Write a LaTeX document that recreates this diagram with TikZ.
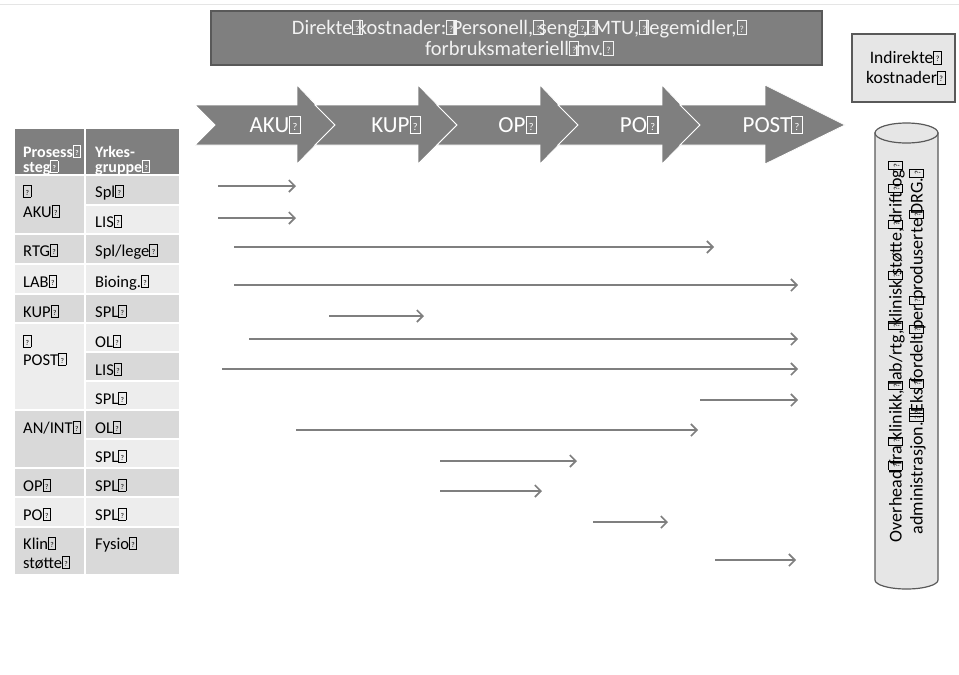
\documentclass[tikz,border=0pt]{standalone}
\usepackage{fontspec}
\setmainfont{Carlito}
\usepackage{graphicx}
\usetikzlibrary{arrows.meta}
\definecolor{boxgray}{HTML}{7F7F7F}
\definecolor{edgegray}{HTML}{595959}
\definecolor{rowD}{HTML}{D9D9D9}
\definecolor{rowL}{HTML}{EDEDED}
\definecolor{palegray}{HTML}{E6E6E6}
\definecolor{lighttxt}{HTML}{F2F2F2}
% missing-glyph box as printed in the picture
\newcommand{\qb}{\makebox[0.22em][l]{\setlength{\fboxsep}{0pt}\setlength{\fboxrule}{0.05em}\fbox{\makebox[0.4em]{\rule{0pt}{0.68em}\raisebox{0.12em}{\scalebox{0.45}{?}}}}}\hspace{0.05em}}

\begin{document}
\begin{tikzpicture}[
x=1pt, y=-1pt,
every node/.style={inner sep=0},
chev/.style={fill=boxgray, draw=white, line width=0.8},
chevtxt/.style={text=white, font=\fontsize{23}{25}\selectfont},
cell/.style={draw=white, line width=1.8},
bodytxt/.style={anchor=base west, font=\fontsize{16.5}{18}\selectfont},
headtxt/.style={anchor=base west, text=white, font=\fontsize{16}{16}\selectfont\bfseries},
flow/.style={draw=boxgray, line width=1.6, -{Straight Barb[length=6pt, width=12pt]}},
cyl/.style={fill=palegray, draw=edgegray, line width=1.2}
]
\useasboundingbox (0,0) rectangle (959,675);
\draw[black!10] (0,4) -- (959,4);

% cost boxes
\node[draw=edgegray, fill=boxgray, line width=1.2, minimum width=611, minimum height=54, align=center,
      text=lighttxt, font=\fontsize{20.5}{21}\selectfont] (direkte) at (516.5,38)
      {Direkte\qb kostnader:\qb Personell,\qb seng\qb,\qb MTU,\qb legemidler,\qb\\forbruksmateriell\qb mv.\qb};
\node[draw=edgegray, fill=palegray, line width=1.2, minimum width=103, minimum height=68, align=center,
      font=\fontsize{17.5}{20}\selectfont] (indirekte) at (903.5,68) {Indirekte\qb\\kostnader\qb};

% process chevrons
\foreach \l/\b/\t/\n in {215/297/335/AKU, 335/418/457/KUP, 457/540/578/OP, 578/662/700/PO, 700/765/845/POST} {
  \filldraw[chev] (\l-20,105) -- (\b,105) -- (\b,85) -- (\t,125) -- (\b,164) -- (\b,145) -- (\l-20,145) -- (\l,125) -- cycle;
  \node[chevtxt] (\n) at ({(\l+\t)/2-3},125) {\n\qb};
}

% table cells
\foreach \xa/\xb/\ya/\yb/\c in {14/85/128/175/boxgray, 85/180/128/175/boxgray,
    14/85/175/234/rowD, 85/180/175/205/rowD, 85/180/205/234/rowL,
    14/85/234/264/rowD, 85/180/234/264/rowD,
    14/85/264/294/rowL, 85/180/264/294/rowL,
    14/85/294/323/rowD, 85/180/294/323/rowD,
    14/85/323/410/rowL, 85/180/323/352/rowL, 85/180/352/381/rowD, 85/180/381/410/rowL,
    14/85/410/468/rowD, 85/180/410/439/rowD, 85/180/439/468/rowL,
    14/85/468/497/rowD, 85/180/468/497/rowD,
    14/85/497/527/rowL, 85/180/497/527/rowL,
    14/85/527/575/rowD, 85/180/527/575/rowD}
  \filldraw[cell, fill=\c] (\xa,\ya) rectangle (\xb,\yb);

\node[headtxt] (h1a) at (23,157) {Prosess\qb};
\node[headtxt] (h1b) at (23,172) {steg\qb};
\node[headtxt] (h2a) at (95,157) {Yrkes-};
\node[headtxt] (h2b) at (95,172) {gruppe\qb};
\node[bodytxt] (akuA) at (23,197) {\qb};
\node[bodytxt] (akuB) at (23,217) {AKU\qb};
\node[bodytxt] (spl1) at (95,197) {Spl\qb};
\node[bodytxt] (lis1) at (95,227) {LIS\qb};
\node[bodytxt] (rtg) at (23,256) {RTG\qb};
\node[bodytxt] (lege) at (95,256) {Spl/lege\qb};
\node[bodytxt] (lab) at (23,287) {LAB\qb};
\node[bodytxt] (bioing) at (95,287) {Bioing.\qb};
\node[bodytxt] (kup) at (23,317) {KUP\qb};
\node[bodytxt] (spl2) at (95,317) {SPL\qb};
\node[bodytxt] (postA) at (23,347) {\qb};
\node[bodytxt] (postB) at (23,365) {POST\qb};
\node[bodytxt] (ol1) at (95,347) {OL\qb};
\node[bodytxt] (lis2) at (95,375) {LIS\qb};
\node[bodytxt] (spl3) at (95,404) {SPL\qb};
\node[bodytxt] (anint) at (23,433) {AN/INT\qb};
\node[bodytxt] (ol2) at (95,433) {OL\qb};
\node[bodytxt] (spl4) at (95,462) {SPL\qb};
\node[bodytxt] (op) at (23,491) {OP\qb};
\node[bodytxt] (spl5) at (95,491) {SPL\qb};
\node[bodytxt] (po) at (23,520) {PO\qb};
\node[bodytxt] (spl6) at (95,520) {SPL\qb};
\node[bodytxt] (klinA) at (23,549) {Klin\qb};
\node[bodytxt] (klinB) at (23,568) {støtte\qb};
\node[bodytxt] (fysio) at (95,549) {Fysio\qb};

% activity arrows
\foreach \k/\y/\a/\b in {1/186/218/296, 2/218/218/296, 3/247/234/714, 4/285/234/798, 5/316/329/424,
    6/339/249/798, 7/369/222/798, 8/400/700/798, 9/430/296/698, 10/461/440/577,
    11/491/440/542, 12/522/593/668, 13/560/715/796} {
  \coordinate (s\k) at (\a,\y);
  \coordinate (e\k) at (\b,\y);
  \draw[flow] (s\k) -- (e\k);
}

% overhead cylinder
\filldraw[cyl] (875,133) -- (875,580) arc[start angle=180, end angle=0, x radius=31.5, y radius=9] -- (938,133) -- cycle;
\filldraw[cyl] (906.5,133) ellipse[x radius=31.5, y radius=10];
\node[rotate=90, align=center, font=\fontsize{18}{21}\selectfont] (overhead) at (907,354)
  {Overhead\qb fra\qb klinikk,\qb lab/rtg,\qb klinisk\qb støtte,\qb drift\qb og\qb\\administrasjon.\qb\qb Eks\qb fordelt\qb per\qb produserte\qb DRG.\qb};
\end{tikzpicture}
\end{document}
